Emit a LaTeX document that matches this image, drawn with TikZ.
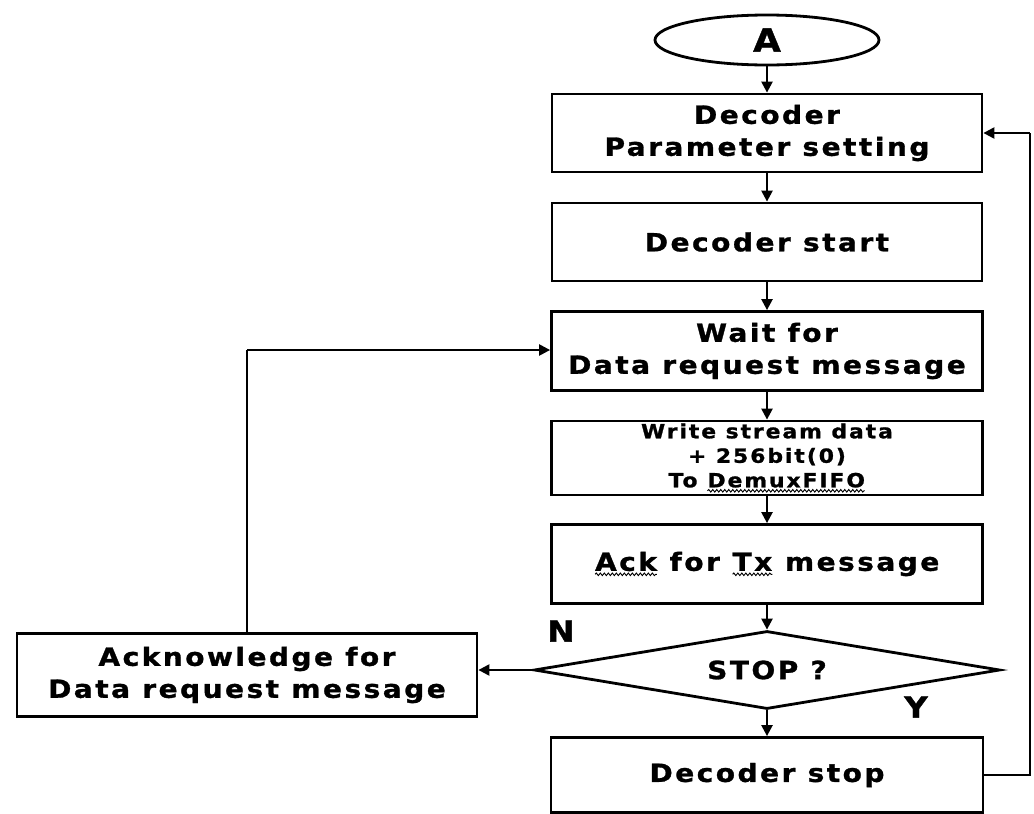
\documentclass[tikz,border=0pt]{standalone}
\usepackage{fontspec}
\usetikzlibrary{shapes.geometric,arrows.meta,decorations.pathmorphing}
\newfontfamily\lbl{DejaVu Sans}[FakeStretch=1.12, LetterSpace=10, FakeBold=1.2]
% word with a wavy proofing underline
\newcommand{\wavy}[1]{\tikz[baseline=(w.base)]{%
  \node[shape=rectangle, draw=none, minimum width=0pt, minimum height=0pt,
        inner sep=0pt, outer sep=0pt] (w) {#1};
  \draw[line width=0.9pt, decorate, decoration={snake, amplitude=1.3pt, segment length=4pt}]
    ([yshift=-3.5pt]w.base west) -- ([yshift=-3.5pt]w.base east);}}
\begin{document}
\begin{tikzpicture}[x=1pt,y=-1pt,
  every node/.style={inner sep=0pt, align=center},
  txt/.style={font=\lbl\bfseries\fontsize{25}{32}\selectfont},
  stepbox/.style={draw, line width=2.8pt, txt},
  conn/.style={line width=2.3pt, -{Triangle[length=11pt,width=11pt]}},
  wire/.style={line width=2.3pt}
]
\useasboundingbox (0,0) rectangle (1034,814);

% start terminal
\node[draw, ellipse, line width=2.8pt, minimum width=224pt, minimum height=50pt,
      font=\lbl\bfseries\fontsize{32}{34}\selectfont] (A) at (767,40) {A};

% main column
\node[stepbox, minimum width=430pt, minimum height=78pt] (param) at (767,133)
  {Decoder\\Parameter setting};
\node[stepbox, minimum width=430pt, minimum height=78pt] (start) at (767,242)
  {Decoder start};
\node[stepbox, minimum width=431pt, minimum height=79pt] (wait) at (767,351)
  {Wait for\\Data request message};
\node[stepbox, minimum width=431pt, minimum height=74pt,
      font=\lbl\bfseries\fontsize{19.5}{24.5}\selectfont] (write) at (767,458)
  {Write stream data\\+ 256bit(0)\\To \wavy{DemuxFIFO}};
\node[stepbox, minimum width=431pt, minimum height=79pt] (ack) at (767,564)
  {\wavy{Ack} for \wavy{Tx} message};
\node[draw, diamond, aspect=6, line width=2.8pt, minimum width=466pt, minimum height=78pt, txt]
  (stop) at (767,670) {STOP ?};
\node[stepbox, minimum width=432pt, minimum height=75pt] (dstop) at (767,775)
  {Decoder stop};

% "no" branch
\node[stepbox, minimum width=460pt, minimum height=83pt] (ackreq) at (247,675)
  {Acknowledge for\\Data request message};

% branch labels
\node[font=\lbl\bfseries\fontsize{29}{32}\selectfont] (lN) at (561,631) {N};
\node[font=\lbl\bfseries\fontsize{29}{32}\selectfont] (lY) at (916,707) {Y};

% connectors down the column
\draw[conn] (A.south) -- (param.north);
\draw[conn] (param.south) -- (start.north);
\draw[conn] (start.south) -- (wait.north);
\draw[conn] (wait.south) -- (write.north);
\draw[conn] (write.south) -- (ack.north);
\draw[conn] (ack.south) -- (stop.north);
\draw[conn] (stop.south) -- (dstop.north);

% loop back from "Decoder stop" to parameter setting
\coordinate (rb) at (1030,775);
\coordinate (rt) at (1030,133);
\draw[wire] (dstop.east) -- (rb) -- (rt);
\draw[conn] (rt) -- (param.east);

% "no" branch and return to wait
\draw[conn] (stop.west) -- (ackreq.east |- stop.west);
\coordinate (lt) at (247,350);
\draw[wire] (ackreq.north) -- (lt);
\draw[conn] (lt) -- (wait.west |- lt);
\end{tikzpicture}
\end{document}
